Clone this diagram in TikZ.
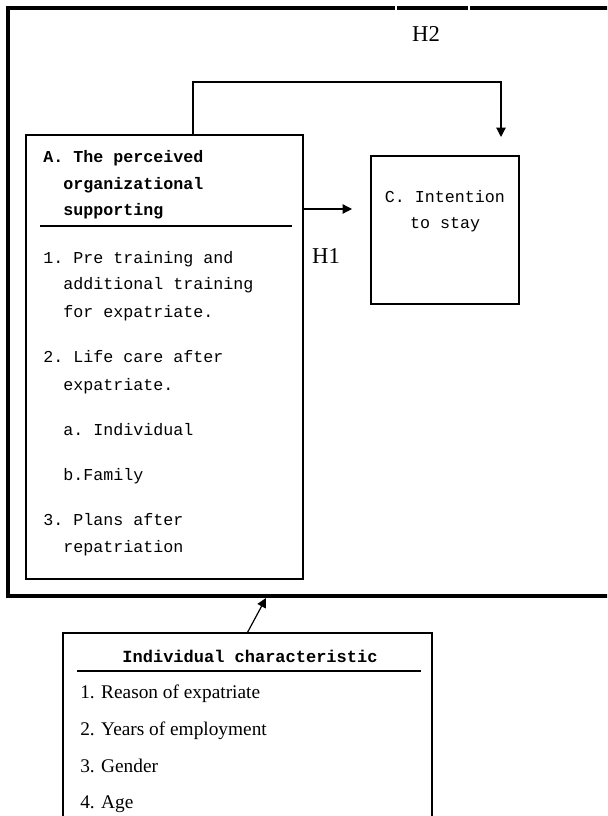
\documentclass[tikz,border=0pt]{standalone}
\usepackage{fontspec}
\setmainfont{Liberation Serif}
\setmonofont{Liberation Mono}
\usetikzlibrary{arrows.meta,fit}
\begin{document}
\begin{tikzpicture}[x=0.75pt,y=-0.75pt,
  box/.style={draw, line width=0.9pt, inner sep=0pt},
  lbox/.style={draw=white, line width=0.8pt, inner sep=0pt},
  mono/.style={font=\ttfamily\fontsize{12.5}{15}\selectfont, anchor=base west, inner sep=0pt},
  monob/.style={font=\ttfamily\bfseries\fontsize{12.5}{15}\selectfont, anchor=base west, inner sep=0pt},
  serif/.style={font=\fontsize{14.5}{17}\selectfont, anchor=base west, inner sep=0pt},
  hlab/.style={font=\fontsize{17}{20}\selectfont, anchor=base, inner sep=0pt},
  arr/.style={line width=0.9pt, -{Triangle[length=7pt,width=7pt]}},
  sep/.style={line width=0.9pt}]
\useasboundingbox (0,0) rectangle (607,816);
\clip (0,0) rectangle (607,816);
\fill[white] (0,0) rectangle (607,816);

% outer frame
\draw[line width=3pt] (640,8) -- (8,8) -- (8,596) -- (640,596);

% label boxes (white outlines)
\node[lbox, fit={(396,2) (469,62)}] (h2box) {};
\node[lbox, fit={(303,228) (358,282)}] (h1box) {};
\node[hlab] (h2) at (426,42) {H2};
\node[hlab] (h1) at (326,263) {H1};

% box A
\node[box, fit={(26,135) (303,579)}] (A) {};
\node[monob] (a1) at (43,163) {A. The perceived};
\node[monob] (a2) at (63,190) {organizational};
\node[monob] (a3) at (63,216) {supporting};
\coordinate (asl) at (40,226);
\coordinate (asr) at (292,226);
\draw[sep] (asl) -- (asr);
\node[mono] (b1) at (43,263) {1. Pre training and};
\node[mono] (b2) at (63,290) {additional training};
\node[mono] (b3) at (63,317) {for expatriate.};
\node[mono] (b4) at (43,362) {2. Life care after};
\node[mono] (b5) at (63,390) {expatriate.};
\node[mono] (b6) at (63,435) {a. Individual};
\node[mono] (b7) at (63,480) {b.Family};
\node[mono] (b8) at (43,525) {3. Plans after};
\node[mono] (b9) at (63,552) {repatriation};

% box C
\node[box, fit={(371,156) (519,304)}] (C) {};
\node[mono, anchor=base] (c1) at (445,203) {C. Intention};
\node[mono, anchor=base] (c2) at (445,229) {to stay};

% box D
\node[box, fit={(63,633) (432,840)}] (D) {};
\node[monob, anchor=base, font=\ttfamily\bfseries\fontsize{12.75}{15}\selectfont] (d0) at (250,662) {Individual characteristic};
\coordinate (dsl) at (77,671);
\coordinate (dsr) at (421,671);
\draw[sep] (dsl) -- (dsr);
\node[serif] (d1) at (80,698) {1. Reason of expatriate};
\node[serif] (d2) at (80,735) {2. Years of employment};
\node[serif] (d3) at (80,772) {3. Gender};
\node[serif] (d4) at (80,808) {4. Age};

% connectors
\coordinate (h2top) at (193,82);
\coordinate (h2end) at (501,137);
\draw[arr] (A.north -| h2top) -- (h2top) -| (h2end);
\coordinate (h1end) at (352,209);
\draw[arr] (A.east |- h1end) -- (h1end);
\coordinate (up) at (266,598);
\draw[arr] (D.north) -- (up);
\end{tikzpicture}
\end{document}
